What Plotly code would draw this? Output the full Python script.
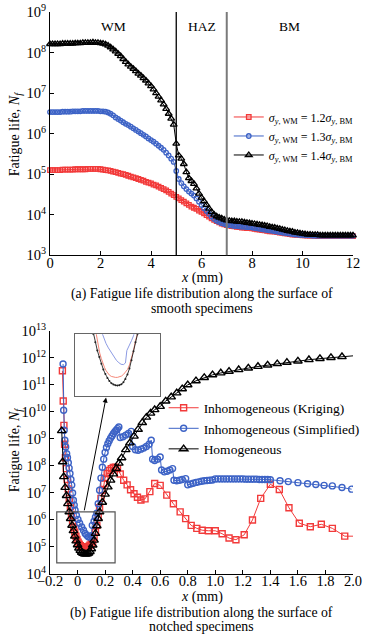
import plotly.graph_objects as go

FONT = "Liberation Serif, Times New Roman, serif"

# ---------------- (a) smooth specimens ----------------
X_SMOOTH = [round(i * 0.1, 1) for i in range(121)]

# log10(Nf), x = 0.0 ... 12.0 step 0.1
LOG_NF_WM12 = [5.10,
    5.10, 5.10, 5.10, 5.10, 5.11, 5.11, 5.11, 5.11, 5.11, 5.12,
    5.12, 5.12, 5.12, 5.12, 5.13, 5.13, 5.13, 5.13, 5.13, 5.12,
    5.11, 5.10, 5.09, 5.08, 5.06, 5.05, 5.03, 5.01, 5.00, 4.98,
    4.96, 4.94, 4.92, 4.90, 4.88, 4.86, 4.84, 4.81, 4.79, 4.77,
    4.74, 4.72, 4.69, 4.66, 4.63, 4.60, 4.56, 4.52, 4.48, 4.44,
    4.40, 4.36, 4.32, 4.28, 4.24, 4.20, 4.17, 4.14, 4.10, 4.07,
    4.03, 3.99, 3.95, 3.91, 3.87, 3.84, 3.81, 3.78, 3.76, 3.74,
    3.73, 3.72, 3.71, 3.70, 3.69, 3.68, 3.68, 3.67, 3.67, 3.66,
    3.65, 3.64, 3.63, 3.62, 3.61, 3.60, 3.59, 3.59, 3.58, 3.57,
    3.56, 3.55, 3.54, 3.53, 3.52, 3.51, 3.51, 3.50, 3.50, 3.49,
    3.49, 3.48, 3.48, 3.48, 3.48, 3.47, 3.47, 3.47, 3.47, 3.47,
    3.47, 3.47, 3.47, 3.47, 3.47, 3.47, 3.47, 3.47, 3.47, 3.47]

LOG_NF_WM13 = [6.53,
    6.53, 6.53, 6.53, 6.53, 6.54, 6.54, 6.54, 6.54, 6.55, 6.55,
    6.55, 6.55, 6.56, 6.56, 6.56, 6.56, 6.56, 6.56, 6.56, 6.55,
    6.55, 6.54, 6.52, 6.49, 6.45, 6.40, 6.36, 6.32, 6.28, 6.24,
    6.21, 6.17, 6.13, 6.09, 6.05, 6.01, 5.97, 5.93, 5.88, 5.84,
    5.80, 5.75, 5.70, 5.65, 5.60, 5.53, 5.46, 5.38, 5.30, 5.08,
    4.88, 4.78, 4.70, 4.63, 4.57, 4.52, 4.47, 4.40, 4.32, 4.24,
    4.16, 4.09, 4.02, 3.95, 3.89, 3.85, 3.82, 3.79, 3.77, 3.75,
    3.74, 3.73, 3.72, 3.72, 3.71, 3.70, 3.70, 3.69, 3.69, 3.68,
    3.67, 3.66, 3.65, 3.64, 3.63, 3.62, 3.61, 3.60, 3.59, 3.58,
    3.57, 3.56, 3.55, 3.54, 3.53, 3.52, 3.51, 3.51, 3.50, 3.50,
    3.49, 3.49, 3.49, 3.48, 3.48, 3.48, 3.48, 3.48, 3.48, 3.48,
    3.48, 3.48, 3.48, 3.48, 3.48, 3.48, 3.48, 3.48, 3.48, 3.48]

LOG_NF_WM14 = [8.21,
    8.21, 8.21, 8.21, 8.21, 8.22, 8.22, 8.22, 8.22, 8.22, 8.23,
    8.23, 8.23, 8.24, 8.24, 8.24, 8.24, 8.25, 8.24, 8.24, 8.23,
    8.22, 8.20, 8.17, 8.13, 8.08, 8.03, 7.97, 7.91, 7.84, 7.77,
    7.71, 7.65, 7.60, 7.54, 7.48, 7.43, 7.37, 7.31, 7.24, 7.17,
    7.09, 7.00, 6.91, 6.82, 6.72, 6.61, 6.49, 6.37, 6.22, 5.75,
    5.46, 5.38, 5.25, 5.05, 4.90, 4.83, 4.76, 4.65, 4.52, 4.42,
    4.33, 4.24, 4.15, 4.07, 4.00, 3.96, 3.93, 3.91, 3.88, 3.86,
    3.85, 3.84, 3.84, 3.83, 3.82, 3.82, 3.81, 3.80, 3.79, 3.78,
    3.77, 3.76, 3.75, 3.74, 3.73, 3.72, 3.70, 3.69, 3.68, 3.66,
    3.65, 3.63, 3.62, 3.60, 3.59, 3.58, 3.56, 3.55, 3.54, 3.53,
    3.52, 3.51, 3.51, 3.50, 3.50, 3.50, 3.49, 3.49, 3.49, 3.49,
    3.49, 3.49, 3.49, 3.49, 3.49, 3.49, 3.49, 3.49, 3.49, 3.49]

ZONE_LABELS = ["WM", "HAZ", "BM"]
ZONE_LABEL_X = [2.5, 6.0, 9.5]
ZONE_BOUNDS = [5.0, 7.0]

# ---------------- (b) notched specimens ----------------
X_KRIG = [-0.11, -0.104, -0.099, -0.094, -0.088, -0.082, -0.075, -0.068, -0.06, -0.052,
          -0.044, -0.036, -0.028, -0.02, -0.012, -0.004, 0.004, 0.012, 0.02, 0.03,
          0.04, 0.05, 0.06, 0.07, 0.08, 0.09, 0.1, 0.11, 0.12, 0.13,
          0.14, 0.15, 0.16, 0.17, 0.18, 0.19, 0.2, 0.215, 0.23, 0.245,
          0.26, 0.275, 0.29, 0.31, 0.335, 0.36, 0.385, 0.41, 0.435, 0.46,
          0.49, 0.525, 0.56, 0.6, 0.648, 0.696, 0.745, 0.785, 0.825, 0.866,
          0.905, 0.95, 1.0, 1.05, 1.1, 1.15, 1.21, 1.27, 1.33, 1.4,
          1.465, 1.535, 1.61, 1.69, 1.77, 1.85, 1.94, 2.06]
LOG_NF_KRIG = [11.52, 10.4, 9.5, 8.8, 8.3, 7.9, 7.5, 7.15, 6.8, 6.5,
               6.2, 5.95, 5.72, 5.55, 5.4, 5.28, 5.18, 5.1, 5.05, 5.01,
               4.99, 4.98, 4.98, 4.99, 5.02, 5.07, 5.13, 5.22, 5.36, 5.55,
               5.8, 6.1, 6.45, 6.8, 7.1, 7.35, 7.55, 7.72, 7.83, 7.9,
               7.94, 7.95, 7.9, 7.7, 7.47, 7.3, 7.12, 6.97, 6.84, 6.74,
               6.78, 7.05, 7.35, 7.28, 6.92, 6.6, 6.3, 6.05, 5.8, 5.69,
               5.62, 5.6, 5.6, 5.49, 5.33, 5.27, 5.45, 6.0, 6.8, 7.32,
               7.13, 6.45, 5.88, 5.75, 5.84, 5.69, 5.4, 5.4]

X_SIMP = [-0.105, -0.101, -0.097, -0.092, -0.086, -0.079, -0.073, -0.067, -0.061, -0.055,
          -0.048, -0.042, -0.036, -0.03, -0.024, -0.018, -0.008, 0.003, 0.015, 0.03,
          0.043, 0.055, 0.067, 0.078, 0.09, 0.1, 0.107, 0.12, 0.13, 0.14,
          0.15, 0.16, 0.17, 0.18, 0.19, 0.2, 0.21, 0.22, 0.23, 0.24,
          0.25, 0.26, 0.27, 0.28, 0.29, 0.30, 0.31, 0.33, 0.35, 0.37,
          0.39, 0.40, 0.42, 0.44, 0.46, 0.48, 0.50, 0.52, 0.535, 0.545,
          0.56, 0.58, 0.60, 0.61, 0.63, 0.65, 0.67, 0.69, 0.70, 0.72,
          0.74, 0.76, 0.785, 0.80, 0.82, 0.84, 0.86, 0.88, 0.90, 0.92,
          0.94, 0.96, 0.98, 1.0,
          1.02, 1.04, 1.06, 1.08, 1.10, 1.12, 1.14, 1.16, 1.18, 1.20,
          1.22, 1.24, 1.26, 1.28, 1.30, 1.32, 1.34, 1.36, 1.38, 1.40,
          1.47, 1.53, 1.6, 1.67, 1.73, 1.79, 1.85, 1.92, 1.99]
LOG_NF_SIMP = [11.77, 10.06, 9.32, 8.95, 8.7, 8.45, 8.3, 8.12, 7.92, 7.72,
               7.5, 7.29, 7.0, 6.73, 6.55, 6.36, 6.17, 6.02, 5.88, 5.74,
               5.62, 5.5, 5.43, 5.38, 5.37, 5.42, 5.8, 5.95, 6.1, 6.25,
               6.6, 7.1, 7.55, 7.95, 8.25, 8.5, 8.68, 8.82, 8.93, 9.03,
               9.11, 9.19, 9.26, 9.32, 9.38, 9.44, 9.05, 9.08, 9.14, 9.2,
               9.28, 8.72, 8.6, 8.58, 8.62, 8.66, 8.72, 8.8, 8.95, 8.25,
               8.2, 8.25, 8.33, 7.85, 7.78, 7.8, 7.85, 7.9, 7.47, 7.45,
               7.47, 7.5, 7.53, 7.3, 7.33, 7.36, 7.39, 7.41, 7.43, 7.45,
               7.46, 7.47, 7.48, 7.52,
               7.52, 7.52, 7.52, 7.52, 7.52, 7.52, 7.52, 7.52, 7.52, 7.52,
               7.51, 7.51, 7.51, 7.51, 7.51, 7.50, 7.50, 7.50, 7.50, 7.49,
               7.45, 7.42, 7.38, 7.34, 7.31, 7.28, 7.26, 7.2, 7.14]

X_HOMO = [-0.115, -0.108, -0.1, -0.09, -0.08, -0.07, -0.06, -0.05, -0.04, -0.03, -0.02, -0.01,
          0.0, 0.01, 0.02, 0.03, 0.04, 0.05, 0.06, 0.07, 0.08, 0.09, 0.10, 0.11, 0.12, 0.13,
          0.14, 0.15, 0.16, 0.18, 0.2, 0.22, 0.24, 0.26, 0.28, 0.30, 0.32, 0.35, 0.38, 0.41,
          0.44, 0.47, 0.50, 0.53, 0.56, 0.60, 0.64, 0.68, 0.72, 0.76, 0.80, 0.86, 0.92, 0.98,
          1.04, 1.10, 1.17, 1.24, 1.31, 1.38, 1.45, 1.52, 1.60, 1.68, 1.76, 1.84, 1.92, 2.06]
LOG_NF_HOMO = [9.3, 8.15, 7.6, 7.2, 6.9, 6.6, 6.3, 6.05, 5.8, 5.6, 5.4, 5.22,
               5.08, 4.96, 4.87, 4.8, 4.76, 4.74, 4.73, 4.74, 4.77, 4.83, 4.93, 5.07, 5.25, 5.5,
               5.78, 6.05, 6.3, 6.65, 6.95, 7.22, 7.47, 7.7, 7.9, 8.1, 8.3, 8.6, 8.85, 9.1,
               9.35, 9.6, 9.8, 9.95, 10.08, 10.2, 10.4, 10.55, 10.7, 10.85, 11.0, 11.15, 11.27, 11.37,
               11.44, 11.5, 11.56, 11.62, 11.68, 11.73, 11.78, 11.83, 11.88, 11.93, 11.97, 12.01, 12.04, 12.1]

# zoom window (data coordinates) shown in the inset
ZOOM_X = [-0.151, 0.2725]
ZOOM_LOG_Y = [4.41, 6.30]

RED, BLUE, BLACK = "#f23a3a", "#3d63c6", "#000000"


def nf(logs):
    return [10 ** v for v in logs]


def sup(n):
    return "10<sup>%d</sup>" % n


fig = go.Figure()

# ---- (a) traces
leg_a = [
    ("<i>σ</i><sub><i>y</i>, WM</sub> = 1.2<i>σ</i><sub><i>y</i>, BM</sub>", LOG_NF_WM12, RED, "square-open", 4.5),
    ("<i>σ</i><sub><i>y</i>, WM</sub> = 1.3<i>σ</i><sub><i>y</i>, BM</sub>", LOG_NF_WM13, BLUE, "circle-open", 4.5),
    ("<i>σ</i><sub><i>y</i>, WM</sub> = 1.4<i>σ</i><sub><i>y</i>, BM</sub>", LOG_NF_WM14, BLACK, "triangle-up-open", 6),
]
for name, logs, col, sym, sz in leg_a:
    fig.add_trace(go.Scatter(
        x=X_SMOOTH, y=nf(logs), name=name, mode="lines+markers",
        line=dict(color=col, width=1),
        marker=dict(symbol=sym, size=sz, color=col, line=dict(color=col, width=1.3)),
        cliponaxis=False, xaxis="x", yaxis="y", legend="legend"))

# ---- (b) traces
leg_b = [
    ("Inhomogeneous (Kriging)", X_KRIG, LOG_NF_KRIG, RED, "square-open", 6),
    ("Inhomogeneous (Simplified)", X_SIMP, LOG_NF_SIMP, BLUE, "circle-open", 6),
    ("Homogeneous", X_HOMO, LOG_NF_HOMO, BLACK, "triangle-up-open", 7.5),
]
for name, xs, logs, col, sym, sz in leg_b:
    fig.add_trace(go.Scatter(
        x=xs, y=nf(logs), name=name, mode="lines+markers",
        line=dict(color=col, width=1),
        marker=dict(symbol=sym, size=sz, color=col, line=dict(color=col, width=1.4)),
        cliponaxis=True, xaxis="x2", yaxis="y2", legend="legend2"))

# ---- inset (magnified notch root)
inset = [(X_KRIG, LOG_NF_KRIG, "#f47a6a", None),
         (X_SIMP, LOG_NF_SIMP, "#7f8fe0", None),
         (X_HOMO, LOG_NF_HOMO, "#222222", 2)]
for xs, logs, col, msz in inset:
    fig.add_trace(go.Scatter(
        x=xs, y=nf(logs), mode="lines+markers" if msz else "lines",
        line=dict(color=col, width=0.9),
        marker=dict(size=msz or 1, color=col, symbol="circle"),
        showlegend=False, hoverinfo="skip", xaxis="x3", yaxis="y3"))

TICKFONT = dict(family=FONT, size=14.5, color="black")
axis_common = dict(showline=True, linecolor="black", linewidth=1, ticks="inside",
                   ticklen=4, tickcolor="black", showgrid=False, zeroline=False,
                   automargin=False, tickfont=TICKFONT)

TOP_DOM = [0.5673, 1.0]
BOT_DOM = [0.0, 0.4327]

fig.update_layout(
    template="none",
    width=366, height=637,
    margin=dict(l=50, r=13, t=12, b=63, autoexpand=False),
    paper_bgcolor="white", plot_bgcolor="white",
    font=dict(family=FONT, size=13, color="black"),
    xaxis=dict(axis_common, domain=[0, 1], anchor="y", range=[0, 12],
               ticklabelstandoff=-6, tickvals=[0, 2, 4, 6, 8, 10, 12]),
    yaxis=dict(axis_common, domain=TOP_DOM, anchor="x", type="log", range=[3, 9],
               tickvals=[10 ** k for k in range(3, 10)], ticktext=[sup(k) for k in range(3, 10)]),
    xaxis2=dict(axis_common, domain=[0, 1], anchor="y2", range=[-0.2, 2.0],
                ticklabelstandoff=-6,
                tickvals=[-0.2, 0, 0.2, 0.4, 0.6, 0.8, 1.0, 1.2, 1.4, 1.6, 1.8, 2.0],
                ticktext=["−0.2", "0", "0.2", "0.4", "0.6", "0.8", "1.0", "1.2", "1.4", "1.6", "1.8", "2.0"]),
    yaxis2=dict(axis_common, domain=BOT_DOM, anchor="x2", type="log", range=[4, 13],
                tickvals=[10 ** k for k in range(4, 14)], ticktext=[sup(k) for k in range(4, 14)]),
    xaxis3=dict(domain=[0.0826, 0.3634], anchor="y3", range=ZOOM_X, showticklabels=False,
                ticks="", showgrid=False, zeroline=False, showline=True, mirror=True,
                linecolor="#666666", linewidth=1.2, automargin=False),
    yaxis3=dict(domain=[0.3166, 0.4268], anchor="x3", type="log", range=ZOOM_LOG_Y,
                showticklabels=False, ticks="", showgrid=False, zeroline=False,
                showline=True, mirror=True, linecolor="#666666", linewidth=1.2,
                automargin=False),
    legend=dict(x=0.59, y=0.839, xanchor="left", yanchor="top", bgcolor="rgba(0,0,0,0)",
                font=dict(family=FONT, size=12), itemwidth=30, tracegroupgap=0),
    legend2=dict(x=0.375, y=0.323, xanchor="left", yanchor="top", bgcolor="rgba(0,0,0,0)",
                 font=dict(family=FONT, size=13.5), itemwidth=30, tracegroupgap=0),
    showlegend=True,
)

# zone boundaries (a)
fig.add_shape(type="line", xref="x", yref="y domain", x0=ZONE_BOUNDS[0], x1=ZONE_BOUNDS[0],
              y0=0, y1=1, line=dict(color="black", width=1.3))
fig.add_shape(type="line", xref="x", yref="y domain", x0=ZONE_BOUNDS[1], x1=ZONE_BOUNDS[1],
              y0=0, y1=1, line=dict(color="#7a7a7a", width=2))
for lab, xv in zip(ZONE_LABELS, ZONE_LABEL_X):
    fig.add_annotation(x=xv, y=8.64, xref="x", yref="y", text=lab, showarrow=False,
                       xanchor="center", yanchor="middle",
                       font=dict(family=FONT, size=13.5))

# zoom rectangle and arrow (b)
fig.add_shape(type="rect", xref="x2", yref="y2", x0=ZOOM_X[0], x1=ZOOM_X[1],
              y0=10 ** ZOOM_LOG_Y[0], y1=10 ** ZOOM_LOG_Y[1],
              line=dict(color="#555555", width=1.2))
fig.add_annotation(x=0.207, y=10.53, xref="x2", yref="y2", ax=0.047, ay=6.30,
                   axref="x2", ayref="y2", text="", showarrow=True, arrowhead=2,
                   arrowsize=1, arrowwidth=1, arrowcolor="black")


def paper_text(txt, x, y, size=14, angle=0):
    fig.add_annotation(x=x, y=y, xref="paper", yref="paper", text=txt, textangle=angle,
                       xanchor="center", yanchor="middle", showarrow=False,
                       font=dict(family=FONT, size=size, color="black"))


YTITLE = "Fatigue life, <i>N</i><sub><i>f</i></sub>"
paper_text(YTITLE, -0.1156, 0.784, angle=-90)
paper_text(YTITLE, -0.1156, 0.222, angle=-90)
paper_text("<i>x</i> (mm)", 0.5, 0.527)
paper_text("<i>x</i> (mm)", 0.5, -0.0404)
paper_text("(a) Fatigue life distribution along the surface of", 0.5, 0.4977, size=13.8)
paper_text("smooth specimens", 0.5, 0.4728, size=13.8)
paper_text("(b) Fatigue life distribution along the surface of", 0.5, -0.0694, size=13.8)
paper_text("notched specimens", 0.5, -0.0943, size=13.8)

fig.write_html("out.html", config={"displayModeBar": False},
               post_script="document.body.style.margin='0';document.body.style.overflow='hidden';")
